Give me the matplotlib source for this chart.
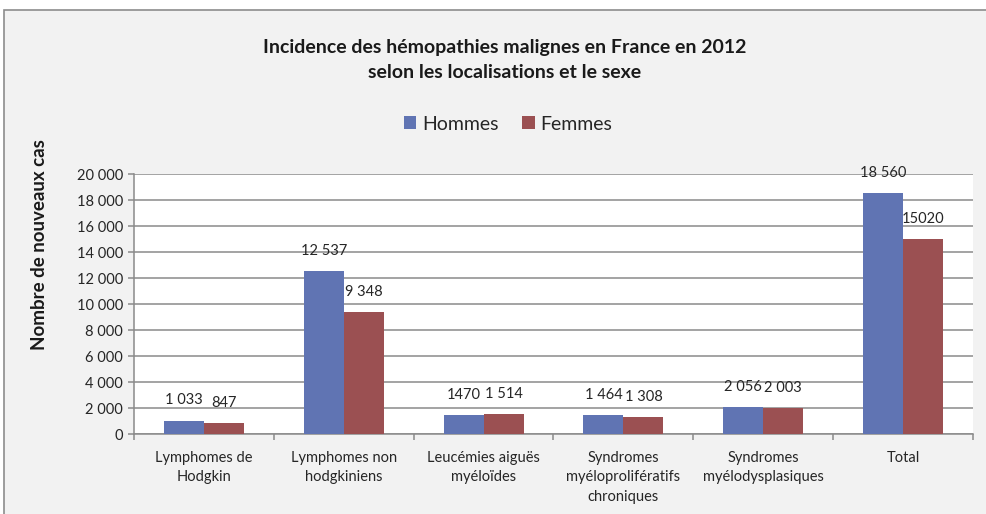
import numpy as np
import matplotlib
matplotlib.use("Agg")
import matplotlib.pyplot as plt
from matplotlib.patches import Rectangle

plt.rcParams['font.family'] = ['Lato', 'DejaVu Sans']

categories = ["Lymphomes de\nHodgkin", "Lymphomes non\nhodgkiniens", "Leucémies aiguës\nmyéloïdes",
              "Syndromes\nmyéloprolifératifs\nchroniques", "Syndromes\nmyélodysplasiques", "Total"]
hommes = [1033, 12537, 1470, 1464, 2056, 18560]
femmes = [847, 9348, 1514, 1308, 2003, 15020]
hommes_labels = ["1 033", "12 537", "1470", "1 464", "2 056", "18 560"]
femmes_labels = ["847", "9 348", "1 514", "1 308", "2 003", "15020"]
yticks = [0, 2000, 4000, 6000, 8000, 10000, 12000, 14000, 16000, 18000, 20000]

blue = '#6074b3'
red = '#9b5052'
grid_col = '#8a8a8a'
txt = '#262626'

fig = plt.figure(figsize=(9.87, 5.14), dpi=100)
fig.patch.set_facecolor('white')
W, H = 987, 514

# cadre extérieur du graphique
fig.patches.append(Rectangle((4 / W, -0.05), 1.0, 1 - 10 / H + 0.05, transform=fig.transFigure,
                             facecolor='#f2f2f2', edgecolor='#8c8c8c', lw=1.2, zorder=-10))

ax = fig.add_axes([134 / W, 1 - 434 / H, (973 - 134) / W, (434 - 174) / H])
ax.set_facecolor('white')

x = np.arange(len(categories))
w = 0.286
ax.bar(x - w / 2, hommes, w, color=blue, zorder=3, label='Hommes')
ax.bar(x + w / 2, femmes, w, color=red, zorder=3, label='Femmes')

off = 1550
for i in range(len(categories)):
    ax.text(x[i] - w / 2, hommes[i] + off, hommes_labels[i], ha='center', va='center',
            fontsize=10.5, color=txt, zorder=4)
    ax.text(x[i] + w / 2, femmes[i] + off, femmes_labels[i], ha='center', va='center',
            fontsize=10.5, color=txt, zorder=4)

ax.set_xlim(-0.5, len(categories) - 0.5)
ax.set_ylim(0, 20000)
ax.set_yticks(yticks)
ax.set_yticklabels([f"{v:,}".replace(",", " ") for v in yticks], fontsize=10.5, color=txt)
ax.yaxis.grid(True, color=grid_col, lw=1.1, zorder=1)
ax.set_axisbelow(True)

ax.set_xticks(np.arange(-0.5, len(categories), 1.0))
ax.set_xticklabels([])
ax.set_xticks(x, minor=True)
ax.set_xticklabels(categories, minor=True, fontsize=10.5, color=txt, linespacing=1.5, va='top')
ax.tick_params(axis='x', which='minor', length=0, pad=12)
ax.tick_params(axis='x', which='major', length=4, color=grid_col, width=1.1)
ax.tick_params(axis='y', length=4, color=grid_col, width=1.1, pad=4)

for s in ['top', 'right']:
    ax.spines[s].set_visible(False)
for s in ['left', 'bottom']:
    ax.spines[s].set_color(grid_col)
    ax.spines[s].set_linewidth(1.1)

fig.text(40 / W, 1 - 245 / H, "Nombre de nouveaux cas", rotation=90, ha='center', va='center',
         fontsize=13.5, fontweight='bold', color='#1a1a1a')
fig.text(505 / W, 1 - 47 / H, "Incidence des hémopathies malignes en France en 2012",
         ha='center', va='center', fontsize=14, fontweight='bold', color='#1a1a1a')
fig.text(505 / W, 1 - 73 / H, "selon les localisations et le sexe",
         ha='center', va='center', fontsize=14, fontweight='bold', color='#1a1a1a')

fig.legend(loc='center', bbox_to_anchor=(508 / W, 1 - 124 / H), ncol=2, frameon=False,
           fontsize=14, handlelength=0.65, handleheight=0.65, handletextpad=0.3,
           columnspacing=1.2, labelcolor=txt)

fig.savefig("out.png", dpi=100)
